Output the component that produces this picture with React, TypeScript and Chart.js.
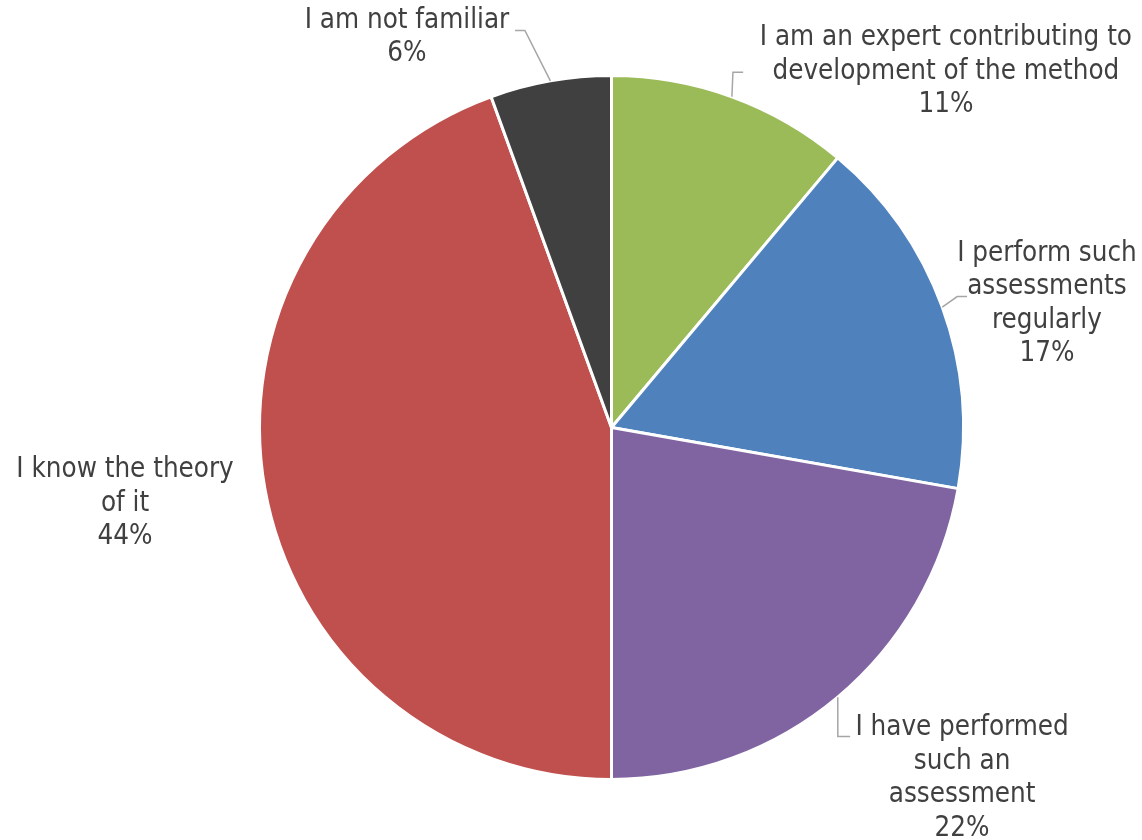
import React, { useEffect, useRef } from "react";
import { Chart, registerables } from "chart.js";

Chart.register(...registerables);

const categories: string[][] = [
  ["I am an expert contributing to", "development of the method"],
  ["I perform such", "assessments", "regularly"],
  ["I have performed", "such an", "assessment"],
  ["I know the theory", "of it"],
  ["I am not familiar"],
];
const responses: number[] = [2, 3, 4, 8, 1];
const sliceColors: string[] = ["#9BBB59", "#4F81BD", "#8064A2", "#C0504D", "#404040"];

// label layout, in units of the pie radius relative to its centre
const labelCenters: [number, number][] = [
  [0.95, -1.011],
  [1.237, -0.351],
  [0.996, 0.997],
  [-1.382, 0.216],
  [-0.581, -1.108],
];
const leaderPaths: ([number, number][] | null)[] = [
  [[0.345, -1.009], [0.374, -1.009]],
  [[0.982, -0.372], [1.01, -0.372]],
  [[0.643, 0.878], [0.678, 0.878]],
  null,
  [[-0.246, -1.128], [-0.274, -1.128]],
];

const FONT = '27.5px "DejaVu Sans Condensed", "DejaVu Sans", sans-serif';
const LINE_H = 33.5;

const labelPlugin = {
  id: "outerLabels",
  afterDraw(chart: any) {
    const ctx = chart.ctx;
    const meta = chart.getDatasetMeta(0);
    const data = chart.data.datasets[0].data as number[];
    const total = data.reduce((a, b) => a + b, 0);
    ctx.save();
    meta.data.forEach((arc: any, i: number) => {
      const { x, y, outerRadius, startAngle, endAngle } = arc.getProps(
        ["x", "y", "outerRadius", "startAngle", "endAngle"],
        true
      );
      const r = outerRadius;
      const path = leaderPaths[i];
      if (path) {
        const mid = (startAngle + endAngle) / 2;
        ctx.beginPath();
        ctx.strokeStyle = "#A6A6A6";
        ctx.lineWidth = 1.5;
        ctx.moveTo(x + Math.cos(mid) * r, y + Math.sin(mid) * r);
        path.forEach(([px, py]) => ctx.lineTo(x + px * r, y + py * r));
        ctx.stroke();
      }
      const lines = [...categories[i], Math.round((data[i] / total) * 100) + "%"];
      const [cx, cy] = labelCenters[i];
      const lx = x + cx * r;
      const ly = y + cy * r;
      ctx.font = FONT;
      ctx.fillStyle = "#404040";
      ctx.textAlign = "center";
      ctx.textBaseline = "middle";
      const top = ly - ((lines.length - 1) * LINE_H) / 2;
      lines.forEach((t, k) => ctx.fillText(t, lx, top + k * LINE_H));
    });
    ctx.restore();
  },
};

export default function App() {
  const ref = useRef<HTMLCanvasElement | null>(null);
  useEffect(() => {
    if (!ref.current) return;
    const chart = new Chart(ref.current, {
      type: "pie",
      data: {
        labels: categories.map((c) => c.join(" ")),
        datasets: [
          {
            data: responses,
            backgroundColor: sliceColors,
            borderColor: "#FFFFFF",
            borderWidth: 3,
          },
        ],
      },
      options: {
        animation: false,
        responsive: false,
        layout: { padding: { left: 258, right: 177, top: 74, bottom: 59 } },
        plugins: {
          legend: { display: false },
          tooltip: { enabled: false },
        },
      },
      plugins: [labelPlugin],
    });
    return () => chart.destroy();
  }, []);
  return (
    <div style={{ position: "fixed", left: 0, top: 0, width: 1142, height: 840, background: "#fff" }}>
      <canvas ref={ref} width={1142} height={840} style={{ width: 1142, height: 840 }} />
    </div>
  );
}
